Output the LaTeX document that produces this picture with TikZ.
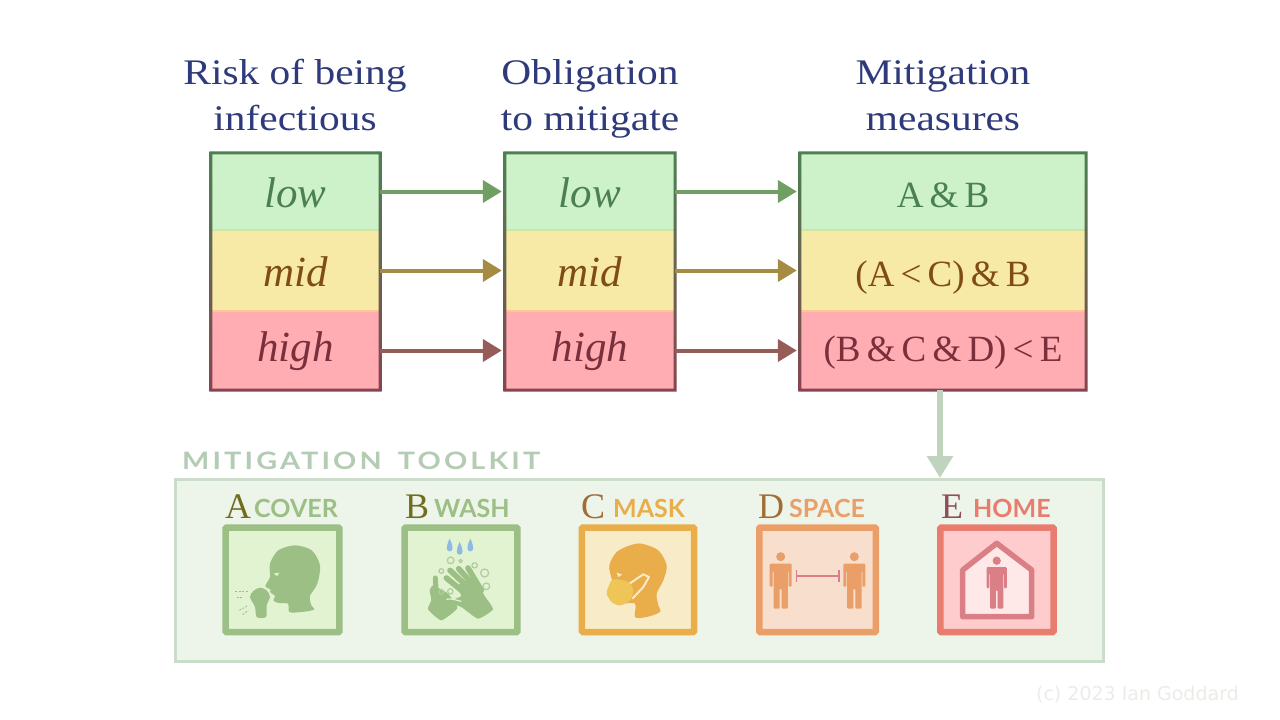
\documentclass[tikz,border=0pt]{standalone}
\usepackage{fontspec}
\usepackage{tikz}
\usetikzlibrary{arrows.meta,calc}
\setmainfont{Liberation Serif}
\newfontfamily\headfont[FakeStretch=1.15]{Liberation Serif}
\newfontfamily\tagfont{Lato}
\newfontfamily\kitfont[LetterSpace=13,FakeStretch=1.2]{Lato}
\newfontfamily\markfont{DejaVu Sans}
\definecolor{navy}{HTML}{2F3A7A}
\definecolor{lowfill}{HTML}{CDF1C9}
\definecolor{midfill}{HTML}{F7E9A6}
\definecolor{highfill}{HTML}{FFADB2}
\definecolor{lowtext}{HTML}{4A8052}
\definecolor{midtext}{HTML}{7F4C14}
\definecolor{hightext}{HTML}{7A2F3C}
\definecolor{lowarrow}{HTML}{6F9F63}
\definecolor{midarrow}{HTML}{A68C42}
\definecolor{higharrow}{HTML}{965C58}
\definecolor{lowedge}{HTML}{CDE6A0}
\definecolor{midedge}{HTML}{F8C88C}
\definecolor{kitfill}{HTML}{EDF5EA}
\definecolor{kitline}{HTML}{CBDDC8}
\definecolor{kittext}{HTML}{B4CBB4}
\definecolor{leaf}{HTML}{9CBF85}
\definecolor{leaffill}{HTML}{E2F3D2}
\definecolor{sun}{HTML}{E9AE4A}
\definecolor{sunfill}{HTML}{F8EBC8}
\definecolor{maskfill}{HTML}{EFC558}
\definecolor{drop}{HTML}{8FB8E6}
\definecolor{peach}{HTML}{EA9F68}
\definecolor{peachfill}{HTML}{F8DFCD}
\definecolor{rose}{HTML}{E87C6E}
\definecolor{rosefill}{HTML}{FFCCCD}
\definecolor{roseman}{HTML}{D97F85}
\definecolor{markgray}{HTML}{E9EDE7}
\begin{document}
\begin{tikzpicture}[x=1pt,y=-1pt]
        \tikzstyle{every node} = [rectangle,inner sep=0pt]
        \tikzstyle{head} = [text=navy,align=center,font=\fontsize{36}{46}\selectfont\headfont]
        \tikzstyle{cell} = [minimum height=10pt,text height=32pt,text depth=0pt]
        \tikzstyle{lowcell} = [cell,fill=lowfill,text=lowtext]
        \tikzstyle{midcell} = [cell,fill=midfill,text=midtext]
        \tikzstyle{highcell} = [cell,fill=highfill,text=hightext,text depth=11pt]
        \tikzstyle{word} = [font=\fontsize{43}{43}\selectfont\itshape]
        \tikzstyle{rule} = [font=\fontsize{37}{37}\selectfont]
        \tikzstyle{flow} = [line width=4pt,shorten >=3pt,-{Triangle[length=19pt,width=22pt]}]
        \tikzstyle{icon} = [draw,line width=6.5pt,rounded corners=1pt]
        \tikzstyle{letter} = [anchor=base west,font=\fontsize{36}{36}\selectfont]
        \tikzstyle{tag} = [anchor=base west,font=\fontsize{25}{25}\selectfont\tagfont\bfseries]
        \useasboundingbox (0,0) rectangle (1280,720);

        \node[head] (riskhead) at (295,98) {\strut Risk of being\\\strut infectious};
        \node[head] (dutyhead) at (590,98) {\strut Obligation\\\strut to mitigate};
        \node[head] (meashead) at (943,98) {\strut Mitigation\\\strut measures};

        % the three level tables
        \foreach \col/\cx/\cw in {1/295.5/169, 2/590/170} {
            \node[lowcell,word,minimum width=\cw pt,minimum height=77pt] (low\col) at (\cx,191.5) {low};
            \node[midcell,word,minimum width=\cw pt,minimum height=81pt] (mid\col) at (\cx,270.5) {mid};
            \node[highcell,word,minimum width=\cw pt,minimum height=79pt] (high\col) at (\cx,350.5) {high};
        }
        \node[lowcell,rule,minimum width=286pt,minimum height=77pt] (low3) at (943,191.5) {A\,\&\,B};
        \node[midcell,rule,minimum width=286pt,minimum height=81pt] (mid3) at (943,270.5) {(A\,<\,C)\,\&\,B};
        \node[highcell,rule,minimum width=286pt,minimum height=79pt] (high3) at (943,350.5) {(B\,\&\,C\,\&\,D)\,<\,E};
        \foreach \col in {1,2,3} {
            \draw[line width=2pt,color=lowedge] (low\col.south west) -- (low\col.south east);
            \draw[line width=2pt,color=midedge] (mid\col.south west) -- (mid\col.south east);
            \shade[top color=lowtext,middle color=midtext!60!lowtext,bottom color=hightext!90!white,even odd rule]
                ($(low\col.north west)+(-1.5,-1.5)$) rectangle ($(high\col.south east)+(1.5,1.5)$)
                ($(low\col.north west)+(1.5,1.5)$) rectangle ($(high\col.south east)+(-1.5,-1.5)$);
        }
        \foreach \from/\to/\tone in {low1/low2/lowarrow, mid1/mid2/midarrow, high1/high2/higharrow,
                low2/low3/lowarrow, mid2/mid3/midarrow, high2/high3/higharrow}
            \draw[flow,color=\tone] (\from) -- (\to);

        % toolkit
        \node[draw=kitline,fill=kitfill,line width=3pt,minimum width=928pt,minimum height=182pt] (kit) at (639.5,570.5) {};
        \node[anchor=base west,text=kittext,font=\fontsize{24}{24}\selectfont\kitfont\bfseries] (kittitle) at (182,469.5) {MITIGATION\hspace{6pt} TOOLKIT};
        \coordinate (kitin) at (940,478);
        \draw[line width=5.5pt,color=kittext!85!white,-{Triangle[length=22pt,width=25pt]}] (kitin |- high3.south) -- (kitin);

        \foreach \name/\cx/\cw/\tone/\wash in {A/282.5/113.9/leaf/leaffill, B/461/112.9/leaf/leaffill,
                C/638/112.1/sun/sunfill, D/817.5/116.5/peach/peachfill, E/996.9/113.2/rose/rosefill}
            \node[icon,draw=\tone,fill=\wash,minimum width=\cw pt,minimum height=104.5pt] (icon\name) at (\cx,579.8) {};

        \node[letter,text=olive!75!black] (letA) at (225,518.5) {A};
        \node[tag,text=leaf] (tagA) at (254,517) {COVER};
        \node[letter,text=olive!75!black] (letB) at (405,518.5) {B};
        \node[tag,text=leaf] (tagB) at (434,517) {WASH};
        \node[letter,text=brown!85!black] (letC) at (581,518.5) {C};
        \node[tag,text=sun] (tagC) at (613,517) {MASK};
        \node[letter,text=brown!85!black] (letD) at (758,518.5) {D};
        \node[tag,text=peach] (tagD) at (789,517) {SPACE};
        \node[letter,text=hightext!85!white] (letE) at (941,518.5) {E};
        \node[tag,text=rose] (tagE) at (973,517) {HOME};

        % A: head and fist
        \begin{scope}[shift={(220,522)},x=.3333pt,y=-.3333pt]
            \fill[leaf] plot[smooth cycle] coordinates {(225,70) (275,85) (300,130) (292,185) (270,222) (274,250) (282,263) (245,270) (208,270) (204,245) (175,243) (160,235) (165,222) (150,210) (152,203) (136,192) (150,165) (150,125) (175,85)};
            \fill[leaffill] (160,155) -- (178,152) -- (172,162) -- cycle;
            \fill[leaf] plot[smooth cycle] coordinates {(120,197) (140,205) (150,225) (140,250) (138,285) (110,285) (105,255) (90,225) (100,207)};
            \foreach \ax/\ay/\bx/\by in {45/207/85/207, 50/225/70/225, 58/265/85/250, 68/278/85/265}
                \draw[leaf,line width=.8pt,dash pattern=on 2pt off 1.5pt] (\ax,\ay) -- (\bx,\by);
        \end{scope}

        % B: hands, bubbles and drops
        \begin{scope}[shift={(398,522)},x=.3333pt,y=-.3333pt]
            \foreach \dx/\dy in {155/70, 185/80, 217/70}
                \fill[drop] (\dx,\dy-20) .. controls (\dx+12,\dy+5) and (\dx+11,\dy+18) .. (\dx,\dy+18) .. controls (\dx-11,\dy+18) and (\dx-12,\dy+5) .. (\dx,\dy-20);
            \draw[leaf,line width=5pt,line cap=round] (112,168) -- (115,215);
            \fill[leaf] plot[smooth cycle,tension=.3] coordinates {(105,190) (125,200) (150,215) (178,258) (130,295) (90,262) (100,235) (95,205)};
            \fill[leaf] plot[smooth cycle,tension=.3] coordinates {(205,175) (240,190) (262,225) (285,262) (240,290) (190,255) (150,240) (190,222) (175,195)};
            \foreach \ax/\ay/\bx/\by in {145/168/215/225, 156/145/225/210, 182/140/240/205, 210/138/250/205}
                \draw[leaf,line width=5.6pt,line cap=round] (\ax,\ay) -- (\bx,\by);
            \draw[leaffill,line width=1.2pt] (145,232) .. controls (160,228) and (175,235) .. (190,238);
            \foreach \bx/\by/\br in {158/115/10, 188/117/5, 230/130/8, 260/153/12, 130/147/7, 265/193/10, 130/210/7, 157/208/8}
                \draw[leaf!80!white,line width=1.2pt] (\bx,\by) circle[radius=\br];
        \end{scope}

        % C: masked head
        \begin{scope}[shift={(575,522)},x=.3333pt,y=-.3333pt]
            \fill[sun] plot[smooth cycle] coordinates {(200,65) (250,85) (275,130) (265,175) (245,215) (250,250) (255,270) (215,285) (180,285) (180,245) (130,240) (110,170) (103,130) (125,90) (165,70)};
            \fill[sunfill] (125,152) -- (142,158) -- (130,165) -- cycle;
            \draw[sunfill,line width=2pt,line join=round] (162,186) -- (205,157) -- (222,165) -- (205,195) -- (172,230);
            \fill[maskfill] plot[smooth cycle] coordinates {(100,195) (115,172) (160,180) (175,205) (165,235) (135,250) (110,240) (95,215)};
        \end{scope}

        % D and E: people
        \tikzset{person/.pic={
            \fill (0,0) circle[radius=4.5];
            \fill[rounded corners=1pt] (-11,7) -- (11,7) -- (11,30) -- (8,30) -- (8,14) -- (7.2,14) -- (7.2,52) -- (1,52) -- (1,32) -- (-1,32) -- (-1,52) -- (-7.2,52) -- (-7.2,14) -- (-8,14) -- (-8,30) -- (-11,30) -- cycle;
        }}
        \pic[peach] at (780.7,556.7) {person};
        \pic[peach] at (854.3,556.7) {person};
        \coordinate (gapl) at (795.7,576);
        \coordinate (gapr) at (840,576);
        \draw[roseman,line width=1.6pt,{Bar[width=12pt,length=1.6pt]}-{Bar[width=12pt,length=1.6pt]}] (gapl) -- (gapr);

        \draw[roseman,line width=5.5pt,fill=rosefill!45!white,line join=round] (996.7,543.3) -- (1031.7,570) -- (1031.7,616.7) -- (962.7,616.7) -- (962.7,570) -- cycle;
        \pic[roseman,scale=.92] at (996.7,560.7) {person};

        \node[anchor=base east,text=markgray,font=\fontsize{19}{19}\selectfont\markfont] (mark) at (1239,700) {(c) 2023 Ian Goddard};
    \end{tikzpicture}
\end{document}
